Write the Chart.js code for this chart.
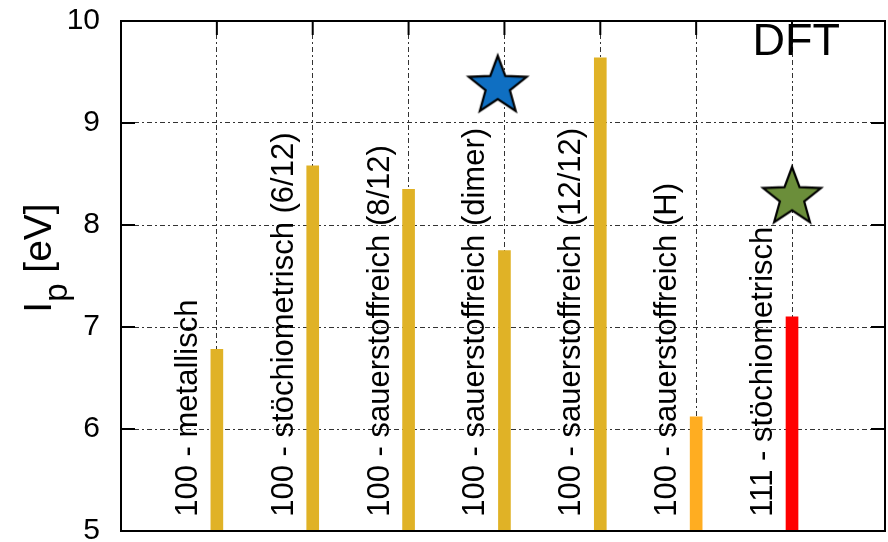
<!DOCTYPE html>
<html>
<head>
<meta charset="utf-8">
<script src="https://cdn.jsdelivr.net/npm/chart.js@4.4.1/dist/chart.umd.min.js"></script>
<style>
  html, body { margin: 0; padding: 0; background: #fff; }
  #wrap { width: 888px; height: 542px; }
</style>
</head>
<body>
<div id="wrap"><canvas id="chart"></canvas></div>
<script>
// structures (labels drawn next to each bar)
const categories = [
  '100 - metallisch',
  '100 - stöchiometrisch (6/12)',
  '100 - sauerstoffreich (8/12)',
  '100 - sauerstoffreich (dimer)',
  '100 - sauerstoffreich (12/12)',
  '100 - sauerstoffreich (H)',
  '111 - stöchiometrisch'
];
const barPositions = [1, 2, 3, 4, 5, 6, 7];
const ipValues = [6.78, 8.58, 8.35, 7.75, 9.64, 6.12, 7.10];
const barColors = ['#e0b226', '#e0b226', '#e0b226', '#e0b226', '#e0b226', '#ffad21', '#ff0000'];

// reference points (stars)
const starX = [3.93, 7.0];
const starY = [9.36, 8.27];
const starColors = ['#0f6fc2', '#6b8e3a'];

const yTicks = [5, 6, 7, 8, 9, 10];
const FONT = "'Liberation Sans', Arial, sans-serif";

// filled five-point star used as point image
function makeStar(fill) {
  const size = 70;
  const c = document.createElement('canvas');
  c.width = c.height = size;
  const g = c.getContext('2d');
  const R = 30.5, r = R * 0.42, cx = size / 2, cy = size / 2;
  g.beginPath();
  for (let i = 0; i < 10; i++) {
    const rad = i % 2 === 0 ? R : r;
    const a = -Math.PI / 2 + i * Math.PI / 5;
    const px = cx + rad * Math.cos(a), py = cy + rad * Math.sin(a);
    if (i === 0) g.moveTo(px, py); else g.lineTo(px, py);
  }
  g.closePath();
  g.fillStyle = fill;
  g.fill();
  g.lineWidth = 2.2;
  g.lineJoin = 'miter';
  g.strokeStyle = '#000';
  g.stroke();
  return c;
}

// frame, inward ticks, rotated bar labels, axis title, DFT tag
const decorations = {
  id: 'decorations',
  afterDraw(chart) {
    const { ctx, chartArea: a, scales } = chart;
    const xs = scales.x, ys = scales.y;
    ctx.save();

    // bar labels
    ctx.fillStyle = '#000';
    ctx.font = '31px ' + FONT;
    ctx.textAlign = 'left';
    ctx.textBaseline = 'alphabetic';
    categories.forEach((label, i) => {
      const bx = xs.getPixelForValue(barPositions[i]) - 20;
      const by = ys.getPixelForValue(5.14);
      ctx.save();
      ctx.translate(bx, by);
      ctx.rotate(-Math.PI / 2);
      ctx.fillText(label, 0, 0);
      ctx.restore();
    });

    // frame
    ctx.strokeStyle = '#000';
    ctx.lineWidth = 2;
    ctx.strokeRect(a.left, a.top, a.right - a.left, a.bottom - a.top);

    // inward ticks
    ctx.beginPath();
    yTicks.forEach(v => {
      const py = ys.getPixelForValue(v);
      ctx.moveTo(a.left, py); ctx.lineTo(a.left + 14, py);
      ctx.moveTo(a.right, py); ctx.lineTo(a.right - 14, py);
    });
    barPositions.forEach(v => {
      const px = xs.getPixelForValue(v);
      ctx.moveTo(px, a.top); ctx.lineTo(px, a.top + 14);
    });
    ctx.stroke();

    // y title: I_p [eV]
    ctx.save();
    ctx.translate(51, (a.top + a.bottom) / 2 - 18);
    ctx.rotate(-Math.PI / 2);
    ctx.textAlign = 'left';
    const main = '39px ' + FONT, sub = '33px ' + FONT;
    ctx.font = main;
    const wI = ctx.measureText('I').width;
    const wRest = ctx.measureText(' [eV]').width;
    ctx.font = sub;
    const wP = ctx.measureText('p').width;
    let x0 = -(wI + wP + wRest) / 2;
    ctx.font = main;
    ctx.fillText('I', x0, 0);
    ctx.font = sub;
    ctx.fillText('p', x0 + wI, 16);
    ctx.font = main;
    ctx.fillText(' [eV]', x0 + wI + wP, 0);
    ctx.restore();

    // DFT tag
    ctx.font = '45px ' + FONT;
    ctx.textAlign = 'right';
    ctx.fillText('DFT', a.right - 45, a.top + 34);

    ctx.restore();
  }
};

const ctx = document.getElementById('chart').getContext('2d');
new Chart(ctx, {
  type: 'bar',
  data: {
    datasets: [
      {
        type: 'bar',
        data: barPositions.map((x, i) => ({ x, y: ipValues[i] })),
        backgroundColor: barColors,
        borderWidth: 0,
        barThickness: 12,
        order: 2
      },
      {
        type: 'scatter',
        data: starX.map((x, i) => ({ x, y: starY[i] })),
        pointStyle: starColors.map(makeStar),
        pointRadius: 30,
        clip: false,
        order: 1
      }
    ]
  },
  plugins: [decorations],
  options: {
    responsive: true,
    maintainAspectRatio: false,
    animation: false,
    layout: { autoPadding: false, padding: { left: 0, right: 3, top: 21, bottom: 11 } },
    plugins: {
      legend: { display: false },
      tooltip: { enabled: false }
    },
    scales: {
      x: {
        type: 'linear',
        min: 0,
        max: 7.97,
        offset: false,
        ticks: { display: false, stepSize: 1 },
        grid: { color: '#333', lineWidth: 1, drawTicks: false, offset: false },
        border: { display: false, dash: [5, 3, 2, 3] },
        afterFit: s => {
          s.height = 0;
          s.paddingLeft = s.paddingRight = s.paddingTop = s.paddingBottom = 0;
        }
      },
      y: {
        min: 5,
        max: 10,
        ticks: {
          stepSize: 1,
          padding: 21,
          color: '#000',
          font: { family: FONT, size: 30, lineHeight: 0.7 }
        },
        grid: { color: '#333', lineWidth: 1, drawTicks: false },
        border: { display: false, dash: [5, 3, 2, 3] },
        afterFit: s => {
          s.width = 121;
          s.paddingTop = s.paddingBottom = 0;
        }
      }
    }
  }
});
</script>
</body>
</html>
